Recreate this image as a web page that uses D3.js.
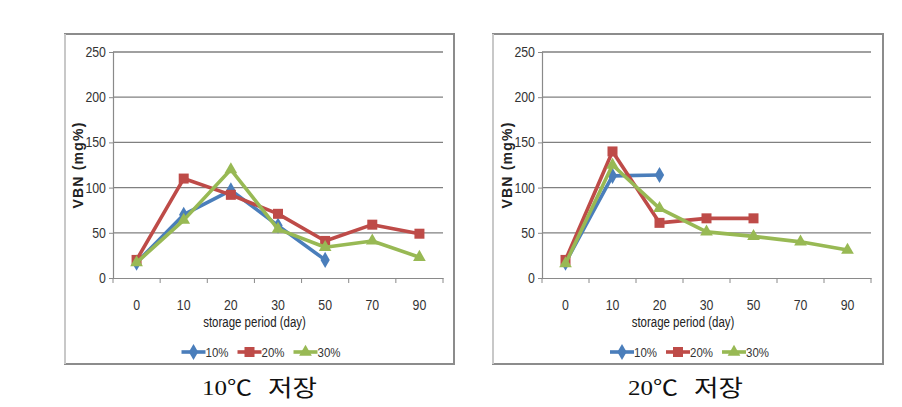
<!DOCTYPE html>
<html><head><meta charset="utf-8">
<script src="https://cdn.jsdelivr.net/npm/d3@7"></script>
<style>
html,body{margin:0;padding:0;background:#fff;}
svg{display:block;}
</style></head>
<body>
<svg id="c" width="902" height="407"></svg>
<script>
const days = ["0","10","20","30","50","70","90"];
const yTicks = [0,50,100,150,200,250];
const seriesNames = ["10%","20%","30%"];
const seriesColors = ["#4a7ebb","#be4b48","#98b954"];
const markerTypes = ["diamond","square","triangle"];
// 10°C storage
const a10 = [17,70,97,58,20,null,null];
const a20 = [20,110,92,71,41,59,49];
const a30 = [17,64,120,54,34,41,23];
// 20°C storage
const b10 = [17,113,114,null,null,null,null];
const b20 = [20,140,61,66,66,null,null];
const b30 = [16,125,77,51,46,40,31];
const captionTemps = ["10℃","20℃"];
const captionWord = "저장";

const svg = d3.select("#c");
const sansFont = "'Liberation Sans',Arial,sans-serif";

function marker(sel, type, color){
  if(type==="diamond"){
    sel.append("path").attr("d", d3.symbol(d3.symbolDiamond, 75)()).attr("fill",color);
  } else if(type==="square"){
    sel.append("rect").attr("x",-5).attr("y",-5).attr("width",10).attr("height",10).attr("fill",color);
  } else {
    sel.append("path").attr("d", d3.symbol(d3.symbolTriangle, 70)()).attr("fill",color);
  }
}

function drawChart(frame, plot, data, capX){
  const g = svg.append("g");
  g.append("rect").attr("x",frame.x).attr("y",frame.y).attr("width",frame.w).attr("height",frame.h)
    .attr("fill","#fff").attr("stroke","#8c8c8c").attr("stroke-width",2);
  g.append("line").attr("x1",frame.x).attr("x2",frame.x).attr("y1",frame.y).attr("y2",frame.y+frame.h)
    .attr("stroke","#c8c8c8").attr("stroke-width",2);

  const x = d3.scaleBand().domain(days).range([plot.x0, plot.x1]).padding(0);
  const y = d3.scaleLinear().domain([0,250]).range([plot.y0, plot.y1]);

  g.append("g").selectAll("line").data(yTicks.filter(t=>t>0)).join("line")
    .attr("x1",plot.x0).attr("x2",plot.x1).attr("y1",d=>y(d)).attr("y2",d=>y(d))
    .attr("stroke","#808080").attr("stroke-width",1.3);

  const ya = g.append("g").attr("transform",`translate(${plot.x0},0)`)
    .call(d3.axisLeft(y).tickValues(yTicks).tickSize(4).tickPadding(4));
  ya.select(".domain").attr("stroke","#8a8a8a").attr("stroke-width",1.2);
  ya.selectAll(".tick line").attr("stroke","#8a8a8a");
  ya.selectAll("text").attr("font-family",sansFont).attr("font-size",14).attr("fill","#333")
    .attr("transform","scale(0.88,1)");

  const xa = g.append("g").attr("transform",`translate(0,${plot.y0})`)
    .call(d3.axisBottom(x).tickSize(0).tickPadding(22));
  xa.select(".domain").attr("stroke","#8a8a8a").attr("stroke-width",1.2);
  xa.selectAll("text").attr("font-family",sansFont).attr("font-size",14).attr("fill","#333")
    .attr("transform","scale(0.88,1)");
  const bounds = days.map(d=>x(d)).concat([plot.x1]);
  g.append("g").selectAll("line").data(bounds).join("line")
    .attr("x1",d=>d).attr("x2",d=>d).attr("y1",plot.y0).attr("y2",plot.y0+5)
    .attr("stroke","#8a8a8a").attr("stroke-width",1);

  g.append("text").attr("transform",`translate(${frame.x+frame.w/2-5},${plot.y0+49}) scale(0.82,1)`)
    .attr("text-anchor","middle").attr("font-family",sansFont).attr("font-size",14).attr("fill","#222")
    .text("storage period (day)");
  g.append("text").attr("transform",`translate(${plot.x0-30},${(plot.y0+plot.y1)/2}) rotate(-90)`)
    .attr("text-anchor","middle").attr("font-family",sansFont)
    .attr("font-weight","bold").attr("font-size",14).attr("letter-spacing",1.2).attr("fill","#222")
    .text("VBN (mg%)");

  data.forEach((vals,i)=>{
    const pts = days.map((d,j)=>({d, v: vals[j]})).filter(p=>p.v!==null);
    const line = d3.line().x(p=>x(p.d)+x.bandwidth()/2).y(p=>y(p.v));
    g.append("path").datum(pts).attr("d",line).attr("fill","none")
      .attr("stroke",seriesColors[i]).attr("stroke-width",3.6).attr("stroke-linejoin","round");
    pts.forEach(p=>{
      const m = g.append("g").attr("transform",`translate(${x(p.d)+x.bandwidth()/2},${y(p.v)})`);
      marker(m, markerTypes[i], seriesColors[i]);
    });
  });

  const lg = g.append("g").attr("transform",`translate(${frame.x+frame.w/2-78},${plot.y0+74})`);
  seriesNames.forEach((n,i)=>{
    const ox = i*56;
    lg.append("line").attr("x1",ox).attr("x2",ox+24).attr("y1",0).attr("y2",0)
      .attr("stroke",seriesColors[i]).attr("stroke-width",3.6);
    const m = lg.append("g").attr("transform",`translate(${ox+12},0)`);
    marker(m, markerTypes[i], seriesColors[i]);
    lg.append("text").attr("transform",`translate(${ox+24},5) scale(0.85,1)`).attr("font-family",sansFont)
      .attr("font-size",13.5).attr("fill","#333").text(n);
  });

  svg.append("text").attr("x",capX).attr("y",395)
    .attr("font-family","'Liberation Serif','Noto Sans CJK KR',serif").attr("font-size",21)
    .attr("textLength",50).attr("lengthAdjust","spacingAndGlyphs")
    .attr("fill","#111").text(captionTemps[frame.idx]);
  svg.append("text").attr("x",capX+66).attr("y",396)
    .attr("font-family","'Noto Sans CJK KR',serif").attr("font-size",23)
    .attr("textLength",49).attr("lengthAdjust","spacingAndGlyphs")
    .attr("fill","#111").text(captionWord);
}

drawChart({x:65,y:34,w:389,h:330,idx:0},{x0:113,x1:443,y0:278,y1:52},[a10,a20,a30],202);
drawChart({x:493,y:34,w:390,h:330,idx:1},{x0:542,x1:871,y0:278,y1:52},[b10,b20,b30],628);
</script>
</body></html>
